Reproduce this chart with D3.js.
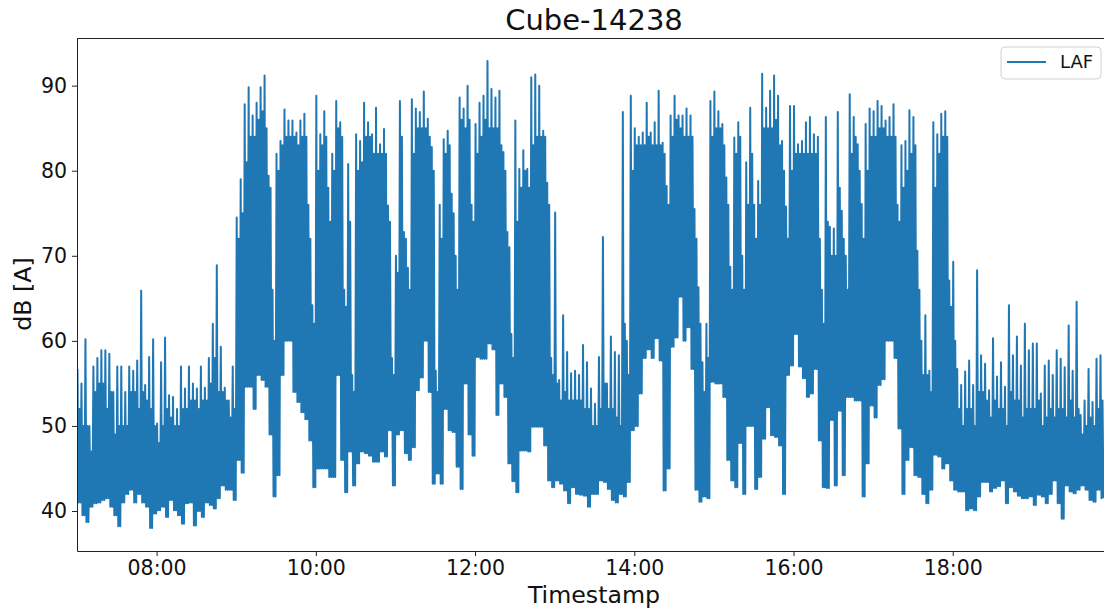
<!DOCTYPE html>
<html>
<head>
<meta charset="utf-8">
<script src="https://cdn.jsdelivr.net/npm/d3@7"></script>
<style>
  html, body { margin: 0; padding: 0; background: #fff; }
  text { font-family: "DejaVu Sans", sans-serif; fill: #111; }
</style>
</head>
<body>
<div id="chart"></div>
<script>
// trace read off per 3 minutes, one set of lists per hour:
// peaks = highest spike, bodies = top of the solid band, dips = lowest reach
const peaks07 = [56.7,55,60.2,50,57,58,58.9,58.9,58.5,54,57,57,54,57,56.5,57.7,65.9,54.8,58.1,60.2];
const bodies07 = [52,50,50,47,54,55,55,52,54,49,50,50,50,54,54,52,54,53,52,50];
const dips07 = [41,39.5,38.7,40.5,40.9,41,41.3,41.5,40.5,39.5,38.2,41,42,42.5,41,42,41,40.5,38,39.7];
const peaks08 = [50.3,57.5,60.4,53.6,53.4,52,57,54.4,57,55,54.4,57,54.5,58,62,68.9,59.3,54.5,53,57];
const bodies08 = [48,50,52,51,50,50,52,52,53,53,52,53,53,55,58,54,54,53,51,52];
const dips08 = [40.1,40.5,39.3,41.3,40.1,39.5,38.5,40.9,41,38.3,40,39.3,41,40.7,40.3,41.5,43,42.5,42.5,41.3];
const peaks09 = [74.5,79,87.8,89.8,86.5,88,89.8,91.2,79.4,66,82,83.5,87.2,85.9,85.9,84.5,85.9,86.7,76,64.2];
const bodies09 = [72,75,81,84,84,86,87,85,78,60,80,83,84,84,84,83,84,84,72,62];
const dips09 = [46,44.5,54.6,54.6,52,56,55.4,54.6,49,41.7,44.2,56,60,60,54,52.8,51.6,50.8,48.3,42.8];
const peaks10 = [88.8,84.3,87,78,82,88.2,85.7,66,80.8,56,84.3,83.5,88,85.7,84.3,87.4,83.1,84.9,75.9,58];
const bodies10 = [80,83,84,74,80,85,84,64,74,54,80,81,84,84,82,82,82,82,74,56];
const dips10 = [45,45,45,44,44,56,46,42.2,47,43,45.6,47,46.8,46.5,45.8,45.8,47,46.4,49.5,43];
const peaks11 = [70,88.2,72.8,68.6,88.4,87.3,86.9,89.3,86.1,82.8,56.5,76,83.7,84.7,77.3,70,88.6,87.3,90,76];
const bodies11 = [68,84,72,66,82,85,85,85,84,80,54,72,82,83,75,66,86,85,86,74];
const dips11 = [49,49.5,46.8,46,47.5,54.2,55.7,60,54,43.2,44.4,43.2,52,49.5,49.3,45.2,42.6,55,49,46.5];
const peaks12 = [85.5,88,88.8,92.9,89.6,88.6,89.4,82.2,72.8,60.8,85.9,80.2,82.4,80.2,91,91.3,90,84.7,78.6,58];
const bodies12 = [82,84,86,85,85,85,83,80,71,58,74,78,80,78,83,84,84,84,76,56];
const dips12 = [58.1,57.9,57.9,59.7,59,51.3,55,53.4,45.6,43.5,42.2,47.1,47.1,47,49.9,49.9,49.9,47.7,43.6,42.8];
const peaks13 = [75.1,55.4,63,58.7,56.2,56.5,56,59.5,57.5,54.4,52.6,58.1,72.2,55,60.5,58.7,58.3,86.9,60,88.8];
const bodies13 = [55,53,54,53,53,53,53,52,52,50,50,52,55,52,52,51,50,62,56,80];
const dips13 = [43.6,43.2,42.4,40.9,42.8,42,41.9,41.8,40.5,42,42,43.6,43.4,42.6,41.3,41,42,41.7,43.4,49.5];
const peaks14 = [85,84,84.5,88,84.5,85.7,89.4,83.3,78.2,86.5,88.8,86.5,86.5,87.3,86.5,75.5,66.3,57.5,62,88.2];
const bodies14 = [83,83,83,84,83,83,83,82,76,84,86,85,84,84,84,72,62,54,58,84];
const dips14 = [50,53.8,58,59,58,60.3,57.7,42.4,45,59.3,60.4,65.2,60,61.6,56.7,42.5,41.1,41.7,41.5,55.2];
const peaks15 = [89.3,87,85.5,79.2,68.7,83.9,85.7,70,81,87.4,76,78.8,91.4,87.4,89.4,91.2,88.8,83.5,75.8,87.6];
const bodies15 = [85,85,83,76,66,82,84,66,76,82,72,76,85,85,85,86,83,80,72,80];
const dips15 = [55,55,53.4,46,43.6,42.8,48,42,50,50,42.6,44,48.5,52.2,48.9,48.7,47.7,42,56,57.1];
const peaks16 = [87.6,83.1,83.5,85.7,86.3,84.3,84,66,86.3,73.4,73.2,86.9,75.3,70,89,86.3,83.1,76.1,85.5,87.3];
const bodies16 = [82,82,82,82,82,82,72,62,74,70,70,78,72,66,82,84,80,72,80,84];
const dips16 = [60.8,57,55.6,53.4,53.8,56.7,48.3,42.8,42.7,50.7,43,51.8,44.2,53.4,53.4,53,53,41.7,45.6,52.4];
const peaks17 = [87,88.2,87.6,85.9,86.3,87.8,76,83,83.5,87.1,86.3,70.6,60,63,56.5,85.7,84.3,86.7,87,67.1];
const bodies17 = [84,85,85,84,84,84,74,78,80,82,83,66,56,56,54,78,82,84,84,64];
const dips17 = [51,54.8,55.5,60,60,58,49.7,42,46,47.5,44.2,44,42,40.9,42.5,46.6,46.4,45,45.6,43.6];
const peaks18 = [69.3,56.7,54.8,56.4,57.7,54.8,68.3,58.3,57.3,54.2,60.3,55.8,57.5,54.6,64.2,58.3,60.5,57.1,62,58.9];
const bodies18 = [60,52,50,52,52,50,54,54,53,51,53,52,52,50,54,53,53,51,52,52];
const dips18 = [42.5,42.3,42.3,40.1,40.3,40.1,41.7,43.4,43.4,42.3,42.7,42.9,43.6,40.9,42.8,42.3,41.8,41.5,41.5,41.7];
const peaks19 = [59.7,59.7,53.8,57.1,57.7,56,58.9,57.9,56.9,61.8,56.5,64.6,51.3,53,56.7,52.8,57.9,58.3];
const bodies19 = [52,53,50,51,52,51,52,52,51,53,51,52,49,50,51,50,52,53];
const dips19 = [40.7,41.9,41.7,40.9,42,43.6,40.9,39.1,43,42.3,42.1,42.5,43,42.5,41.3,41.1,42.5,41.5];

const hours = [7, 8, 9, 10, 11, 12, 13, 14, 15, 16, 17, 18, 19];
const peaks = [peaks07, peaks08, peaks09, peaks10, peaks11, peaks12, peaks13, peaks14, peaks15, peaks16, peaks17, peaks18, peaks19];
const bodies = [bodies07, bodies08, bodies09, bodies10, bodies11, bodies12, bodies13, bodies14, bodies15, bodies16, bodies17, bodies18, bodies19];
const dips = [dips07, dips08, dips09, dips10, dips11, dips12, dips13, dips14, dips15, dips16, dips17, dips18, dips19];

const yTicks = [40, 50, 60, 70, 80, 90];
const xTickHours = [8, 10, 12, 14, 16, 18];

const width = 1104;
const height = 612;
const margin = { top: 38, right: 0, bottom: 61, left: 77 };

const at = (h, m) => new Date(2020, 0, 1, h, Math.floor(m), (m % 1) * 60);

// every 3 minute column is two down and up strokes so the band comes out solid
const trace = d3.merge(hours.map((h, i) => d3.merge(peaks[i].map((hi, j) => [
  { t: at(h, j * 3 + 0.375), v: hi },
  { t: at(h, j * 3 + 1.125), v: dips[i][j] },
  { t: at(h, j * 3 + 1.875), v: bodies[i][j] },
  { t: at(h, j * 3 + 2.625), v: dips[i][j] }
]))));

const x = d3.scaleTime()
  .domain([at(7, 0), at(19, 54)])
  .range([margin.left, width - margin.right]);

const y = d3.scaleLinear()
  .domain([35.3, 95.6])
  .range([height - margin.bottom, margin.top]);

const svg = d3.select('#chart').append('svg')
  .attr('width', width)
  .attr('height', height)
  .style('display', 'block');

svg.append('clipPath').attr('id', 'plot-clip')
  .append('rect')
  .attr('x', margin.left)
  .attr('y', margin.top)
  .attr('width', width - margin.left - margin.right)
  .attr('height', height - margin.top - margin.bottom);

const line = d3.line().x(d => x(d.t)).y(d => y(d.v));

svg.append('path')
  .datum(trace)
  .attr('clip-path', 'url(#plot-clip)')
  .attr('fill', 'none')
  .attr('stroke', '#1f77b4')
  .attr('stroke-width', 2)
  .attr('stroke-linejoin', 'round')
  .attr('d', line);

const xAxis = svg.append('g')
  .attr('transform', `translate(0,${height - margin.bottom})`)
  .call(d3.axisBottom(x)
    .tickValues(xTickHours.map(h => at(h, 0)))
    .tickFormat(d3.timeFormat('%H:%M'))
    .tickSize(5)
    .tickPadding(4)
    .tickSizeOuter(0));

const yAxis = svg.append('g')
  .attr('transform', `translate(${margin.left},0)`)
  .call(d3.axisLeft(y)
    .tickValues(yTicks)
    .tickSize(5)
    .tickPadding(5)
    .tickSizeOuter(0));

[xAxis, yAxis].forEach(axis => {
  axis.selectAll('text').style('font-size', '20.5px').attr('font-family', null);
  axis.selectAll('line').attr('stroke', '#222').attr('stroke-width', 1);
  axis.select('.domain').attr('stroke', '#222').attr('stroke-width', 1);
});

// top spine, the right one falls outside the picture
svg.append('line')
  .attr('x1', margin.left)
  .attr('x2', width)
  .attr('y1', margin.top + 0.5)
  .attr('y2', margin.top + 0.5)
  .attr('stroke', '#222');

svg.append('text')
  .attr('x', 594)
  .attr('y', 30)
  .attr('text-anchor', 'middle')
  .style('font-size', '29px')
  .text('Cube-14238');

svg.append('text')
  .attr('x', 594)
  .attr('y', 603)
  .attr('text-anchor', 'middle')
  .style('font-size', '23.7px')
  .text('Timestamp');

svg.append('text')
  .attr('transform', 'translate(31,294) rotate(-90)')
  .attr('text-anchor', 'middle')
  .style('font-size', '23.7px')
  .text('dB [A]');

const legend = svg.append('g');

legend.append('rect')
  .attr('x', 1001)
  .attr('y', 47)
  .attr('width', 100)
  .attr('height', 32)
  .attr('rx', 4)
  .attr('fill', '#fff')
  .attr('fill-opacity', 0.8)
  .attr('stroke', '#d0d0d0');

legend.append('line')
  .attr('x1', 1007)
  .attr('x2', 1046)
  .attr('y1', 62)
  .attr('y2', 62)
  .attr('stroke', '#1f77b4')
  .attr('stroke-width', 2);

legend.append('text')
  .attr('x', 1060)
  .attr('y', 68)
  .style('font-size', '18px')
  .text('LAF');
</script>
</body>
</html>
